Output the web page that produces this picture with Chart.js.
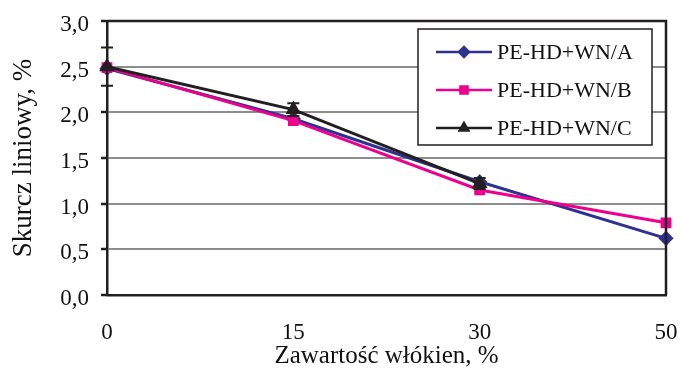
<!DOCTYPE html>
<html>
<head>
<meta charset="utf-8">
<script src="https://cdn.jsdelivr.net/npm/chart.js@4"></script>
<style>
  html, body { margin: 0; padding: 0; background: #fff; }
  #wrap { width: 681px; height: 374px; }
</style>
</head>
<body>
<div id="wrap"><canvas id="shrinkChart"></canvas></div>
<script>
// fibre content categories (equally spaced on the axis)
var fibreContent = ['0', '15', '30', '50'];
var seriesA = [2.48, 1.93, 1.24, 0.62];
var seriesB = [2.49, 1.91, 1.15, 0.79];
var seriesC = [2.50, 2.03, 1.22, null];
var errorC = [0.21, 0.07, 0.06, null];
var seriesNames = ['PE-HD+WN/A', 'PE-HD+WN/B', 'PE-HD+WN/C'];

var blue = '#2e3192';
var pink = '#ec008c';
var black = '#231f20';
var serif = '"Liberation Serif", "DejaVu Serif", serif';

// error bars + frame + legend box drawn on top
var extras = {
    id: 'extras',
    afterDatasetsDraw: function (chart) {
        var c = chart.ctx, x = chart.scales.x, y = chart.scales.y;
        c.save();
        c.strokeStyle = black;
        c.lineWidth = 2;
        errorC.forEach(function (e, i) {
            if (e == null || seriesC[i] == null) return;
            var px = x.getPixelForValue(i);
            var top = y.getPixelForValue(seriesC[i] + e);
            var bot = y.getPixelForValue(seriesC[i] - e);
            c.beginPath();
            c.moveTo(px, top); c.lineTo(px, bot);
            c.moveTo(px - 6, top); c.lineTo(px + 6, top);
            c.moveTo(px - 6, bot); c.lineTo(px + 6, bot);
            c.stroke();
        });
        c.restore();
    },
    afterDraw: function (chart) {
        var c = chart.ctx, a = chart.chartArea;
        c.save();
        // frame (top and right)
        c.strokeStyle = black;
        c.lineWidth = 2.5;
        c.beginPath();
        c.moveTo(a.left, a.top); c.lineTo(a.right, a.top); c.lineTo(a.right, a.bottom);
        c.stroke();

        // legend box
        var bx = 418, by = 29, bw = 234, bh = 116;
        c.fillStyle = '#fff';
        c.fillRect(bx, by, bw, bh);
        c.strokeStyle = black;
        c.lineWidth = 1.5;
        c.strokeRect(bx, by, bw, bh);
        var cols = [blue, pink, black];
        var styles = ['rectRot', 'rect', 'triangle'];
        c.font = '22px ' + serif;
        c.textBaseline = 'middle';
        for (var i = 0; i < 3; i++) {
            var ly = 52 + i * 38;
            c.strokeStyle = cols[i];
            c.lineWidth = 2.5;
            c.beginPath();
            c.moveTo(436, ly); c.lineTo(492, ly);
            c.stroke();
            c.fillStyle = cols[i];
            Chart.helpers.drawPoint(c, { pointStyle: styles[i], radius: 5, rotation: 0, borderWidth: 1 }, 464, ly);
            c.fill();
            c.fillStyle = '#111';
            c.fillText(seriesNames[i], 497, ly + 1);
        }
        c.restore();
    }
};

var ctx = document.getElementById('shrinkChart').getContext('2d');
var shrinkChart = new Chart(ctx, {
    type: 'line',
    data: {
        labels: fibreContent,
        datasets: [{
            label: seriesNames[0],
            data: seriesA,
            borderColor: blue,
            backgroundColor: blue,
            pointStyle: 'rectRot',
            pointRadius: 5.5,
            borderWidth: 3,
            order: 3
        }, {
            label: seriesNames[1],
            data: seriesB,
            borderColor: pink,
            backgroundColor: pink,
            pointStyle: 'rect',
            pointRadius: 5.5,
            borderWidth: 3,
            order: 2
        }, {
            label: seriesNames[2],
            data: seriesC,
            borderColor: black,
            backgroundColor: black,
            pointStyle: 'triangle',
            pointRadius: 6,
            borderWidth: 3,
            order: 1
        }]
    },
    options: {
        responsive: true,
        maintainAspectRatio: false,
        animation: false,
        layout: { padding: { left: 0, right: 15, top: 21, bottom: 0 } },
        plugins: {
            legend: { display: false },
            tooltip: { enabled: false }
        },
        scales: {
            x: {
                afterFit: function (s) { s.height = 79; s.paddingLeft = 0; s.paddingRight = 0; },
                grid: { display: false, drawOnChartArea: false, tickLength: 6, tickColor: black, tickWidth: 2.5 },
                border: { color: black, width: 2.5 },
                ticks: { color: '#111', font: { family: serif, size: 23 }, padding: 18, maxRotation: 0 },
                title: { display: true, text: 'Zawartość włókien, %', color: '#111', font: { family: serif, size: 25 }, padding: { top: 0, bottom: 3 } }
            },
            y: {
                min: 0,
                max: 3,
                afterFit: function (s) { s.width = 107; s.paddingTop = 0; s.paddingBottom = 0; },
                grid: { color: '#8c8c8c', lineWidth: 2, tickLength: 6, tickColor: black, tickWidth: 2.5 },
                border: { color: black, width: 2.5 },
                ticks: {
                    stepSize: 0.5,
                    color: '#111',
                    padding: 12,
                    labelOffset: 4,
                    font: { family: serif, size: 23 },
                    callback: function (v) { return v.toFixed(1).replace('.', ','); }
                },
                title: { display: true, text: 'Skurcz liniowy, %', color: '#111', font: { family: serif, size: 27 }, padding: { top: 8, bottom: 4 } }
            }
        }
    },
    plugins: [extras]
});
</script>
</body>
</html>
